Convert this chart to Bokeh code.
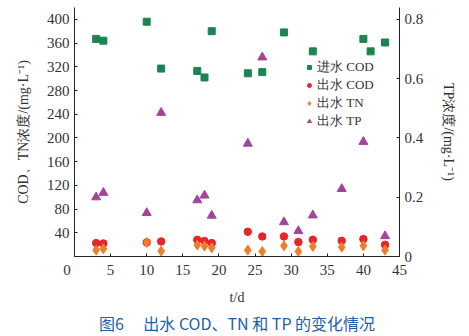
from bokeh.plotting import figure
from bokeh.models import Range1d, LinearAxis, FixedTicker, Legend, LegendItem, Title
from bokeh.embed import file_html
from bokeh.resources import INLINE

# data
days_in_cod = [3, 4, 10, 12, 17, 18, 19, 24, 26, 29, 33, 40, 41, 43]
in_cod = [367, 364, 396, 317, 313, 302, 380, 309, 311, 378, 346, 367, 346, 361]

days_out = [3, 4, 10, 12, 17, 18, 19, 24, 26, 29, 31, 33, 37, 40, 43]
out_cod = [22.6, 22, 23.7, 25.4, 28.2, 26, 22.6, 41.7, 33.8, 33.8, 24.3, 28.2, 26.5, 29.4, 19.8]
out_tn = [10.8, 13, 23.7, 9.1, 19.2, 17.5, 14.7, 10.8, 8.5, 18, 8.5, 17, 15.8, 18, 10.8]
out_tp = [0.2, 0.215, 0.147, 0.485, 0.19, 0.206, 0.138, 0.381, 0.672, 0.116, 0.086, 0.139, 0.228, 0.387, 0.069]

x_ticks = [0, 5, 10, 15, 20, 25, 30, 35, 40, 45]
left_ticks = [40, 80, 120, 160, 200, 240, 280, 320, 360, 400]
right_ticks = [0, 0.2, 0.4, 0.6, 0.8]

SERIF = "Liberation Serif"
GREEN = "#1b8550"
RED = "#e5262b"
ORANGE = "#ef7d2c"
PURPLE = "#a3449b"
TXT = "#333333"

p = figure(width=469, height=336, output_backend="svg", toolbar_location=None,
           x_range=Range1d(0, 45), y_range=Range1d(0, 420),
           min_border_left=74, min_border_right=70, min_border_top=7, min_border_bottom=80)
p.extra_y_ranges = {"tp": Range1d(0, 0.84)}
p.outline_line_color = None
p.grid.visible = False


def style_axis(ax):
    ax.major_tick_in = 3
    ax.major_tick_out = 0
    ax.minor_tick_in = 0
    ax.minor_tick_out = 0
    ax.axis_line_color = "#222222"
    ax.major_tick_line_color = "#222222"
    ax.major_label_text_font = SERIF
    ax.major_label_text_font_size = "15px"
    ax.major_label_text_color = TXT
    ax.major_label_standoff = 5
    ax.axis_label_text_font = SERIF
    ax.axis_label_text_font_style = "normal"
    ax.axis_label_text_font_size = "14px"
    ax.axis_label_text_color = TXT


p.xaxis.ticker = FixedTicker(ticks=x_ticks)
p.yaxis.ticker = FixedTicker(ticks=left_ticks)
style_axis(p.xaxis[0])
style_axis(p.yaxis[0])
p.xaxis[0].major_label_overrides = {0: "0\u00a0\u00a0\u00a0\u00a0"}
p.xaxis[0].major_label_standoff = 5
p.xaxis[0].axis_label = "t/d"
p.xaxis[0].axis_label_standoff = 9
p.yaxis[0].axis_label = "COD、TN浓度/(mg·L⁻¹)"
p.yaxis[0].axis_label_standoff = 13

ra = LinearAxis(y_range_name="tp", ticker=FixedTicker(ticks=right_ticks),
                axis_label="TP浓度/(mg·L⁻¹)")
style_axis(ra)
ra.major_label_overrides = {0: "0"}
ra.axis_label_standoff = 15
p.add_layout(ra, "right")

# glyphs
r_in = p.scatter(days_in_cod, in_cod, marker="square", size=7, color=GREEN)
r_cod = p.scatter(days_out, out_cod, marker="circle", size=7.5, color=RED)
r_tn = p.scatter(days_out, out_tn, marker="diamond", size=10, color=ORANGE)
r_tp = p.scatter(days_out, out_tp, marker="triangle", size=9, color=PURPLE, y_range_name="tp")

legend = Legend(items=[
    LegendItem(label="进水 COD", renderers=[r_in]),
    LegendItem(label="出水 COD", renderers=[r_cod]),
    LegendItem(label="出水 TN", renderers=[r_tn]),
    LegendItem(label="出水 TP", renderers=[r_tp]),
], location=(230, 126))
legend.background_fill_alpha = 0
legend.border_line_color = None
legend.padding = 0
legend.margin = 0
legend.spacing = 0
legend.label_height = 14
legend.glyph_height = 14
legend.glyph_width = 10
legend.label_standoff = 3
legend.label_text_font = SERIF
legend.label_text_font_size = "13px"
legend.label_text_color = TXT
p.add_layout(legend)

# caption below the chart
cap = Title(text="图6\u3000\u00a0出水 COD、TN 和 TP 的变化情况", align="center",
            text_font="Noto Sans CJK SC", text_font_size="16px",
            text_font_style="normal", text_color="#1d5fa8", standoff=2, offset=0)
p.add_layout(cap, "below")

open("out.html", "w").write(file_html(p, INLINE))
